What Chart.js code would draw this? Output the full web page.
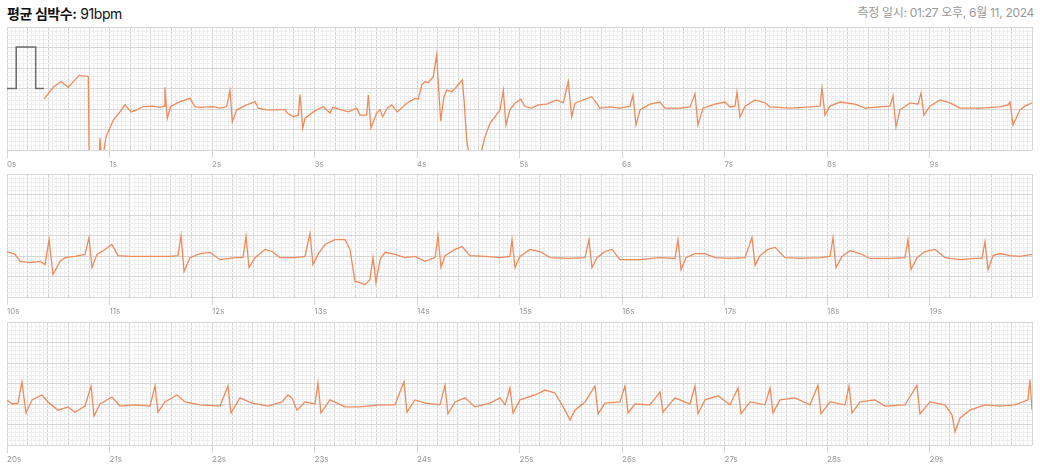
<!DOCTYPE html>
<html>
<head>
<meta charset="utf-8">
<script src="https://cdn.jsdelivr.net/npm/chart.js@4.4.1/dist/chart.umd.min.js"></script>
<style>
  body { margin: 0; background: #fff; width: 1040px; height: 473px; overflow: hidden; position: relative; font-family: Inter, "Noto Sans CJK KR", sans-serif; }
  #title { position: absolute; left: 7px; top: 3px; font-size: 14px; letter-spacing: -0.4px; color: #111; }
  #title b { font-weight: 700; }
  #date { position: absolute; right: 6px; top: 3px; font-size: 12px; letter-spacing: -0.3px; color: #9a9a9a; }
  canvas { position: absolute; left: 0; }
</style>
</head>
<body>
<div id="title"><b>평균 심박수:</b> 91bpm</div>
<div id="date">측정 일시: 01:27 오후, 6월 11, 2024</div>
<canvas id="strip1" width="1040" height="148" style="top:26px"></canvas>
<canvas id="strip2" width="1040" height="148" style="top:173px"></canvas>
<canvas id="strip3" width="1040" height="148" style="top:321px"></canvas>
<script>
// calibration pulse (1 mV) at the start of the first strip
var calTime  = [0, 0.09, 0.09, 0.28, 0.28, 0.36];
var calValue = [0, 0, 1.01, 1.01, 0, 0];

// strip 1: 0s - 10s (mV)
var strip1Time = [0.361, 0.452, 0.527, 0.566, 0.598, 0.663, 0.705, 0.739, 0.783, 0.793, 0.805, 0.89, 0.907, 0.927, 0.946, 0.966, 1.037, 1.102, 1.151, 1.21, 1.265, 1.33, 1.427, 1.493, 1.532, 1.541, 1.564, 1.597, 1.688, 1.785, 1.834, 1.883, 2.01, 2.078, 2.143, 2.176, 2.198, 2.241, 2.339, 2.42, 2.452, 2.534, 2.631, 2.712, 2.735, 2.793, 2.842, 2.859, 2.885, 2.907, 2.988, 3.086, 3.151, 3.178, 3.249, 3.33, 3.412, 3.444, 3.509, 3.525, 3.551, 3.607, 3.639, 3.665, 3.71, 3.753, 3.808, 3.9, 3.98, 4.013, 4.046, 4.078, 4.11, 4.159, 4.192, 4.208, 4.231, 4.263, 4.29, 4.339, 4.371, 4.442, 4.459, 4.485, 4.5, 4.517, 4.624, 4.631, 4.663, 4.712, 4.761, 4.81, 4.842, 4.868, 4.907, 4.956, 5.012, 5.054, 5.119, 5.183, 5.265, 5.363, 5.427, 5.476, 5.509, 5.541, 5.622, 5.704, 5.753, 5.785, 5.883, 5.98, 6.078, 6.107, 6.137, 6.176, 6.273, 6.371, 6.42, 6.566, 6.663, 6.712, 6.741, 6.79, 6.907, 7.005, 7.054, 7.102, 7.122, 7.151, 7.2, 7.298, 7.395, 7.444, 7.639, 7.834, 7.932, 7.951, 7.98, 8.029, 8.127, 8.273, 8.371, 8.517, 8.615, 8.644, 8.673, 8.712, 8.81, 8.888, 8.917, 8.946, 9.005, 9.102, 9.2, 9.298, 9.493, 9.688, 9.766, 9.785, 9.815, 9.883, 9.932, 10.0];
var strip1Value = [-0.26, 0.03, 0.17, 0.09, 0.03, 0.21, 0.32, 0.30, 0.30, 0.29, -2.5, -2.5, -1.21, -2.0, -1.5, -1.18, -0.77, -0.57, -0.40, -0.57, -0.52, -0.44, -0.43, -0.46, -0.43, 0.03, -0.73, -0.44, -0.32, -0.24, -0.44, -0.46, -0.44, -0.48, -0.44, -0.04, -0.81, -0.52, -0.40, -0.32, -0.48, -0.52, -0.52, -0.51, -0.60, -0.69, -0.65, -0.15, -0.97, -0.73, -0.57, -0.44, -0.60, -0.46, -0.51, -0.57, -0.48, -0.65, -0.65, -0.16, -0.96, -0.60, -0.52, -0.69, -0.48, -0.40, -0.57, -0.36, -0.24, -0.26, 0.09, 0.17, 0.14, 0.29, 0.82, 0.13, -0.79, -0.20, -0.04, -0.08, 0.00, 0.21, -0.28, -1.26, -1.5, -2.5, -2.5, -1.5, -1.18, -0.85, -0.69, -0.52, -0.04, -0.89, -0.52, -0.36, -0.26, -0.44, -0.48, -0.40, -0.38, -0.28, -0.35, 0.17, -0.69, -0.36, -0.28, -0.20, -0.36, -0.48, -0.45, -0.48, -0.43, -0.16, -0.89, -0.52, -0.38, -0.33, -0.48, -0.48, -0.45, -0.13, -0.89, -0.48, -0.38, -0.33, -0.45, -0.43, -0.09, -0.70, -0.43, -0.28, -0.35, -0.45, -0.48, -0.45, -0.43, 0.01, -0.65, -0.43, -0.33, -0.38, -0.48, -0.45, -0.43, -0.18, -0.94, -0.52, -0.35, -0.38, -0.11, -0.65, -0.43, -0.28, -0.35, -0.48, -0.48, -0.45, -0.40, -0.33, -0.89, -0.52, -0.43, -0.35];

// strip 2: 10s - 20s (mV)
var strip2Time = [10.0, 10.078, 10.127, 10.224, 10.322, 10.371, 10.41, 10.449, 10.517, 10.566, 10.663, 10.761, 10.8, 10.829, 10.878, 10.956, 11.024, 11.083, 11.2, 11.395, 11.59, 11.668, 11.698, 11.727, 11.785, 11.883, 11.98, 12.078, 12.224, 12.302, 12.332, 12.361, 12.42, 12.517, 12.585, 12.663, 12.81, 12.907, 12.956, 12.985, 13.034, 13.102, 13.2, 13.298, 13.346, 13.395, 13.444, 13.493, 13.541, 13.571, 13.6, 13.639, 13.688, 13.785, 13.883, 13.98, 14.078, 14.176, 14.205, 14.234, 14.273, 14.371, 14.439, 14.517, 14.663, 14.81, 14.907, 14.927, 14.956, 15.005, 15.102, 15.2, 15.298, 15.493, 15.639, 15.678, 15.707, 15.756, 15.834, 15.902, 15.98, 16.176, 16.371, 16.517, 16.546, 16.576, 16.624, 16.712, 16.81, 16.907, 17.054, 17.2, 17.268, 17.298, 17.346, 17.424, 17.493, 17.59, 17.737, 17.932, 18.029, 18.059, 18.088, 18.146, 18.224, 18.322, 18.42, 18.615, 18.761, 18.79, 18.82, 18.878, 18.956, 19.054, 19.151, 19.298, 19.444, 19.512, 19.541, 19.571, 19.62, 19.688, 19.785, 19.883, 20.0];
var strip2Value = [-0.39, -0.46, -0.63, -0.66, -0.63, -0.71, -0.10, -0.95, -0.63, -0.54, -0.51, -0.46, -0.05, -0.78, -0.46, -0.34, -0.22, -0.49, -0.51, -0.51, -0.51, -0.49, 0.0, -0.88, -0.54, -0.44, -0.41, -0.59, -0.54, -0.54, -0.02, -0.78, -0.54, -0.34, -0.39, -0.54, -0.54, -0.51, 0.05, -0.71, -0.46, -0.22, -0.10, -0.10, -0.34, -1.12, -1.15, -1.20, -1.07, -0.54, -1.15, -0.59, -0.41, -0.46, -0.54, -0.51, -0.63, -0.54, 0.0, -0.78, -0.49, -0.34, -0.27, -0.49, -0.51, -0.54, -0.51, -0.10, -0.78, -0.51, -0.34, -0.39, -0.54, -0.56, -0.54, -0.10, -0.78, -0.54, -0.39, -0.34, -0.59, -0.59, -0.54, -0.56, -0.10, -0.83, -0.54, -0.44, -0.44, -0.54, -0.56, -0.54, -0.05, -0.73, -0.49, -0.34, -0.29, -0.54, -0.56, -0.54, -0.51, -0.05, -0.78, -0.51, -0.37, -0.44, -0.56, -0.56, -0.54, -0.10, -0.83, -0.54, -0.39, -0.34, -0.54, -0.59, -0.56, -0.56, -0.15, -0.83, -0.49, -0.44, -0.49, -0.51, -0.46];

// strip 3: 20s - 30s (mV)
var strip3Time = [20.0, 20.049, 20.107, 20.146, 20.185, 20.244, 20.341, 20.4, 20.498, 20.595, 20.663, 20.761, 20.82, 20.849, 20.907, 21.024, 21.102, 21.249, 21.395, 21.444, 21.473, 21.541, 21.659, 21.737, 21.883, 22.078, 22.156, 22.185, 22.273, 22.39, 22.546, 22.683, 22.741, 22.78, 22.829, 22.907, 23.005, 23.034, 23.063, 23.151, 23.298, 23.444, 23.639, 23.785, 23.873, 23.902, 23.98, 24.078, 24.224, 24.273, 24.302, 24.371, 24.468, 24.566, 24.712, 24.81, 24.859, 24.907, 24.937, 25.005, 25.151, 25.249, 25.346, 25.444, 25.493, 25.541, 25.639, 25.737, 25.766, 25.834, 25.98, 26.029, 26.059, 26.127, 26.273, 26.371, 26.4, 26.517, 26.663, 26.712, 26.741, 26.81, 26.937, 27.054, 27.132, 27.161, 27.249, 27.395, 27.444, 27.473, 27.541, 27.688, 27.834, 27.912, 27.941, 28.029, 28.176, 28.215, 28.244, 28.322, 28.468, 28.566, 28.761, 28.878, 28.907, 29.005, 29.151, 29.22, 29.249, 29.298, 29.395, 29.541, 29.688, 29.834, 29.961, 29.98, 30.0];
var strip3Value = [-0.40, -0.50, -0.48, 0.04, -0.72, -0.40, -0.28, -0.45, -0.65, -0.57, -0.70, -0.55, -0.06, -0.79, -0.50, -0.33, -0.55, -0.52, -0.55, -0.06, -0.70, -0.45, -0.28, -0.45, -0.52, -0.55, -0.06, -0.72, -0.35, -0.48, -0.55, -0.45, -0.28, -0.35, -0.65, -0.45, -0.50, 0.01, -0.72, -0.40, -0.57, -0.57, -0.52, -0.52, 0.04, -0.70, -0.40, -0.48, -0.52, -0.04, -0.74, -0.45, -0.35, -0.57, -0.48, -0.35, -0.52, -0.11, -0.72, -0.40, -0.28, -0.16, -0.23, -0.65, -0.89, -0.65, -0.45, -0.06, -0.74, -0.48, -0.45, -0.06, -0.72, -0.50, -0.52, -0.21, -0.70, -0.35, -0.50, -0.06, -0.74, -0.40, -0.30, -0.52, -0.11, -0.74, -0.45, -0.52, -0.11, -0.72, -0.40, -0.35, -0.52, -0.04, -0.74, -0.45, -0.52, -0.06, -0.72, -0.45, -0.40, -0.55, -0.52, -0.04, -0.74, -0.45, -0.52, -0.77, -1.18, -0.84, -0.65, -0.52, -0.55, -0.52, -0.40, 0.09, -0.65];

var minorColor = "#eeeeee";
var majorColor = "#d6d6d6";

function toPoints(xs, ys) {
    return xs.map(function (x, i) { return { x: x, y: ys[i] }; });
}

function makeStrip(id, start, times, values, withCal) {
    var datasets = [{
        data: toPoints(times, values),
        borderColor: "#ef8a5b",
        borderWidth: 1.3,
        pointRadius: 0,
        tension: 0
    }];
    if (withCal) {
        datasets.push({
            data: toPoints(calTime, calValue),
            borderColor: "#6b6b6b",
            borderWidth: 1.5,
            pointRadius: 0,
            tension: 0
        });
    }

    new Chart(document.getElementById(id), {
        type: "line",
        data: { datasets: datasets },
        options: {
            responsive: false,
            animation: false,
            devicePixelRatio: 1,
            layout: { padding: { top: 1, left: 7, right: 8, bottom: 0 } },
            plugins: { legend: { display: false }, tooltip: { enabled: false } },
            scales: {
                x: {
                    type: "linear",
                    min: start,
                    max: start + 10,
                    afterFit: function (scale) { scale.height = 24; },
                    border: { display: false },
                    grid: {
                        lineWidth: 1,
                        tickLength: 8,
                        color: function (ctx) {
                            var n = Math.round((ctx.tick.value - start) * 25);
                            return n % 5 === 0 ? majorColor : minorColor;
                        },
                        tickColor: function (ctx) {
                            var n = Math.round((ctx.tick.value - start) * 25);
                            return (n % 25 === 0 && n < 250) ? majorColor : "rgba(0,0,0,0)";
                        }
                    },
                    ticks: {
                        stepSize: 0.04,
                        autoSkip: false,
                        maxRotation: 0,
                        minRotation: 0,
                        align: "start",
                        padding: 2,
                        color: "#9a9a9a",
                        font: { size: 8, family: "Inter, 'Noto Sans', sans-serif" },
                        callback: function (v) {
                            var n = Math.round((v - start) * 25);
                            if (n % 25 === 0 && n < 250) { return Math.round(v) + "s"; }
                            return "";
                        }
                    }
                },
                y: {
                    min: -1.5,
                    max: 1.5,
                    border: { display: false },
                    grid: {
                        drawTicks: false,
                        color: function (ctx) {
                            var n = Math.round((ctx.tick.value + 1.5) * 10);
                            return n % 5 === 0 ? majorColor : minorColor;
                        }
                    },
                    ticks: { display: false, stepSize: 0.1 }
                }
            }
        }
    });
}

makeStrip("strip1", 0, strip1Time, strip1Value, true);
makeStrip("strip2", 10, strip2Time, strip2Value, false);
makeStrip("strip3", 20, strip3Time, strip3Value, false);
</script>
</body>
</html>
